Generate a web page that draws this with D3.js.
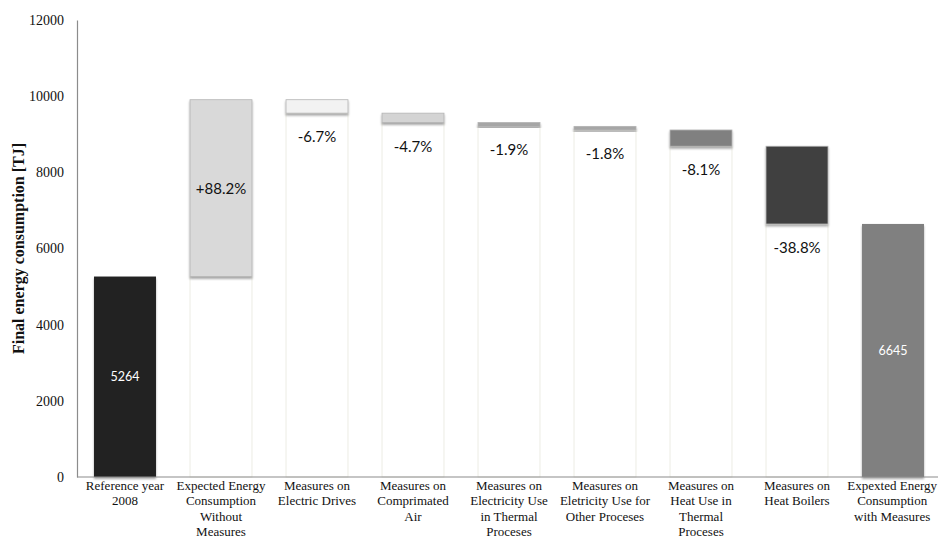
<!DOCTYPE html>
<html>
<head>
<meta charset="utf-8">
<script src="https://cdn.jsdelivr.net/npm/d3@7"></script>
<style>
  html, body { margin: 0; padding: 0; background: #fff; }
  svg { display: block; }
</style>
</head>
<body>
<svg id="chart" width="938" height="544"></svg>
<script>
// Waterfall: 2008 reference, growth without measures, savings per measure, final total
const categories = [
  ["Reference year", "2008"],
  ["Expected Energy", "Consumption", "Without", "Measures"],
  ["Measures on", "Electric Drives"],
  ["Measures on", "Comprimated", "Air"],
  ["Measures on", "Electricity Use", "in Thermal", "Proceses"],
  ["Measures on", "Eletricity Use for", "Other Proceses"],
  ["Measures on", "Heat Use in", "Thermal", "Proceses"],
  ["Measures on", "Heat Boilers"],
  ["Expexted Energy", "Consumption", "with Measures"]
];
const referenceValue = 5264;               // TJ, reference year 2008
const changePercents = [88.2, -6.7, -4.7, -1.9, -1.8, -8.1, -38.8]; // % of reference
const finalValue = 6645;                   // TJ, with measures
const yTicks = [0, 2000, 4000, 6000, 8000, 10000, 12000];
const barFills = ["#222222", "#d9d9d9", "#f2f2f2", "#d4d4d4", "#a6a6a6", "#a6a6a6", "#808080", "#404040", "#808080"];

// Build waterfall segments
const segments = [];
segments.push({ i: 0, lo: 0, hi: referenceValue, kind: "total", label: String(referenceValue) });
let running = referenceValue;
changePercents.forEach((p, k) => {
  const delta = referenceValue * p / 100;
  const next = running + delta;
  segments.push({
    i: k + 1, lo: Math.min(running, next), hi: Math.max(running, next),
    kind: p >= 0 ? "up" : "down",
    label: (p >= 0 ? "+" : "") + p.toFixed(1) + "%"
  });
  running = next;
});
segments.push({ i: 8, lo: 0, hi: finalValue, kind: "total", label: String(finalValue) });

const svg = d3.select("#chart");
const x = d3.scaleBand().domain(d3.range(categories.length)).range([77, 941])
  .paddingInner(0.344).paddingOuter(0.172);
const y = d3.scaleLinear().domain([0, 12000]).range([477, 20]);

// soft drop shadow for the bars
const defs = svg.append("defs");
const f = defs.append("filter").attr("id", "shadow")
  .attr("x", "-20%").attr("y", "-20%").attr("width", "140%").attr("height", "160%");
f.append("feDropShadow").attr("dx", 0).attr("dy", 2).attr("stdDeviation", 1.3)
  .attr("flood-color", "#000").attr("flood-opacity", 0.35);

// invisible base bars (white with faint outline) under floating segments
svg.append("g").selectAll("rect")
  .data(segments.filter(d => d.kind !== "total"))
  .join("rect")
  .attr("x", d => x(d.i) + 0.5)
  .attr("y", d => y(d.lo))
  .attr("width", x.bandwidth() - 1)
  .attr("height", d => y(0) - y(d.lo))
  .attr("fill", "#fff")
  .attr("stroke", "#ecece4")
  .attr("stroke-width", 1);

// visible bars
svg.append("g").selectAll("rect")
  .data(segments)
  .join("rect")
  .attr("x", d => x(d.i) + 0.5)
  .attr("y", d => y(d.hi))
  .attr("width", x.bandwidth() - 1)
  .attr("height", d => y(d.lo) - y(d.hi))
  .attr("fill", d => barFills[d.i])
  .attr("stroke", d => d.kind === "total" ? "none" : "#b4b4b4")
  .attr("stroke-width", 0.8)
  .attr("filter", "url(#shadow)");

// value labels
svg.append("g").selectAll("text")
  .data(segments)
  .join("text")
  .attr("x", d => x(d.i) + x.bandwidth() / 2)
  .attr("y", d => d.kind === "down" ? y(d.lo) + 23 : (y(d.lo) + y(d.hi)) / 2)
  .attr("text-anchor", "middle")
  .attr("dominant-baseline", "central")
  .attr("font-family", "Lato, 'Open Sans', sans-serif")
  .attr("font-size", d => d.kind === "total" ? 12.5 : 15)
  .attr("fill", d => d.kind === "total" ? "#fff" : "#111")
  .text(d => d.label);

// y axis
const yAxis = d3.axisLeft(y).tickValues(yTicks).tickSize(0).tickPadding(13).tickFormat(d3.format("d"));
const gy = svg.append("g").attr("transform", "translate(77,0)").call(yAxis);
gy.select(".domain").attr("stroke", "#8c8c8c").attr("stroke-width", 1.2);
gy.selectAll("text").attr("font-family", "'Liberation Serif', 'Times New Roman', serif")
  .attr("font-size", 14).attr("fill", "#111");

// x axis baseline
svg.append("line").attr("x1", 77).attr("x2", 938).attr("y1", y(0)).attr("y2", y(0))
  .attr("stroke", "#8c8c8c").attr("stroke-width", 1.2);

// category labels
const cat = svg.append("g").selectAll("text")
  .data(categories)
  .join("text")
  .attr("x", (d, i) => x(i) + x.bandwidth() / 2)
  .attr("y", 490)
  .attr("text-anchor", "middle")
  .attr("font-family", "'Liberation Serif', 'Times New Roman', serif")
  .attr("font-size", 13)
  .attr("fill", "#111");
cat.selectAll("tspan")
  .data(d => d)
  .join("tspan")
  .attr("x", function () { return d3.select(this.parentNode).attr("x"); })
  .attr("dy", (d, k) => k === 0 ? 0 : 15.3)
  .text(d => d);

// keep the rightmost label block inside the drawing area
cat.each(function () {
  const t = d3.select(this);
  const w = d3.max(t.selectAll("tspan").nodes(), n => n.getComputedTextLength());
  const cx = +t.attr("x");
  const maxCx = 937 - w / 2;
  if (cx > maxCx) {
    t.attr("x", maxCx);
    t.selectAll("tspan").attr("x", maxCx);
  }
});

// y axis title
svg.append("text")
  .attr("transform", "translate(18," + ((y(0) + y(12000)) / 2) + ") rotate(-90)")
  .attr("text-anchor", "middle")
  .attr("dominant-baseline", "central")
  .attr("font-family", "'Liberation Serif', 'Times New Roman', serif")
  .attr("font-weight", "bold")
  .attr("font-size", 16)
  .attr("fill", "#111")
  .text("Final energy consumption [TJ]");
</script>
</body>
</html>
